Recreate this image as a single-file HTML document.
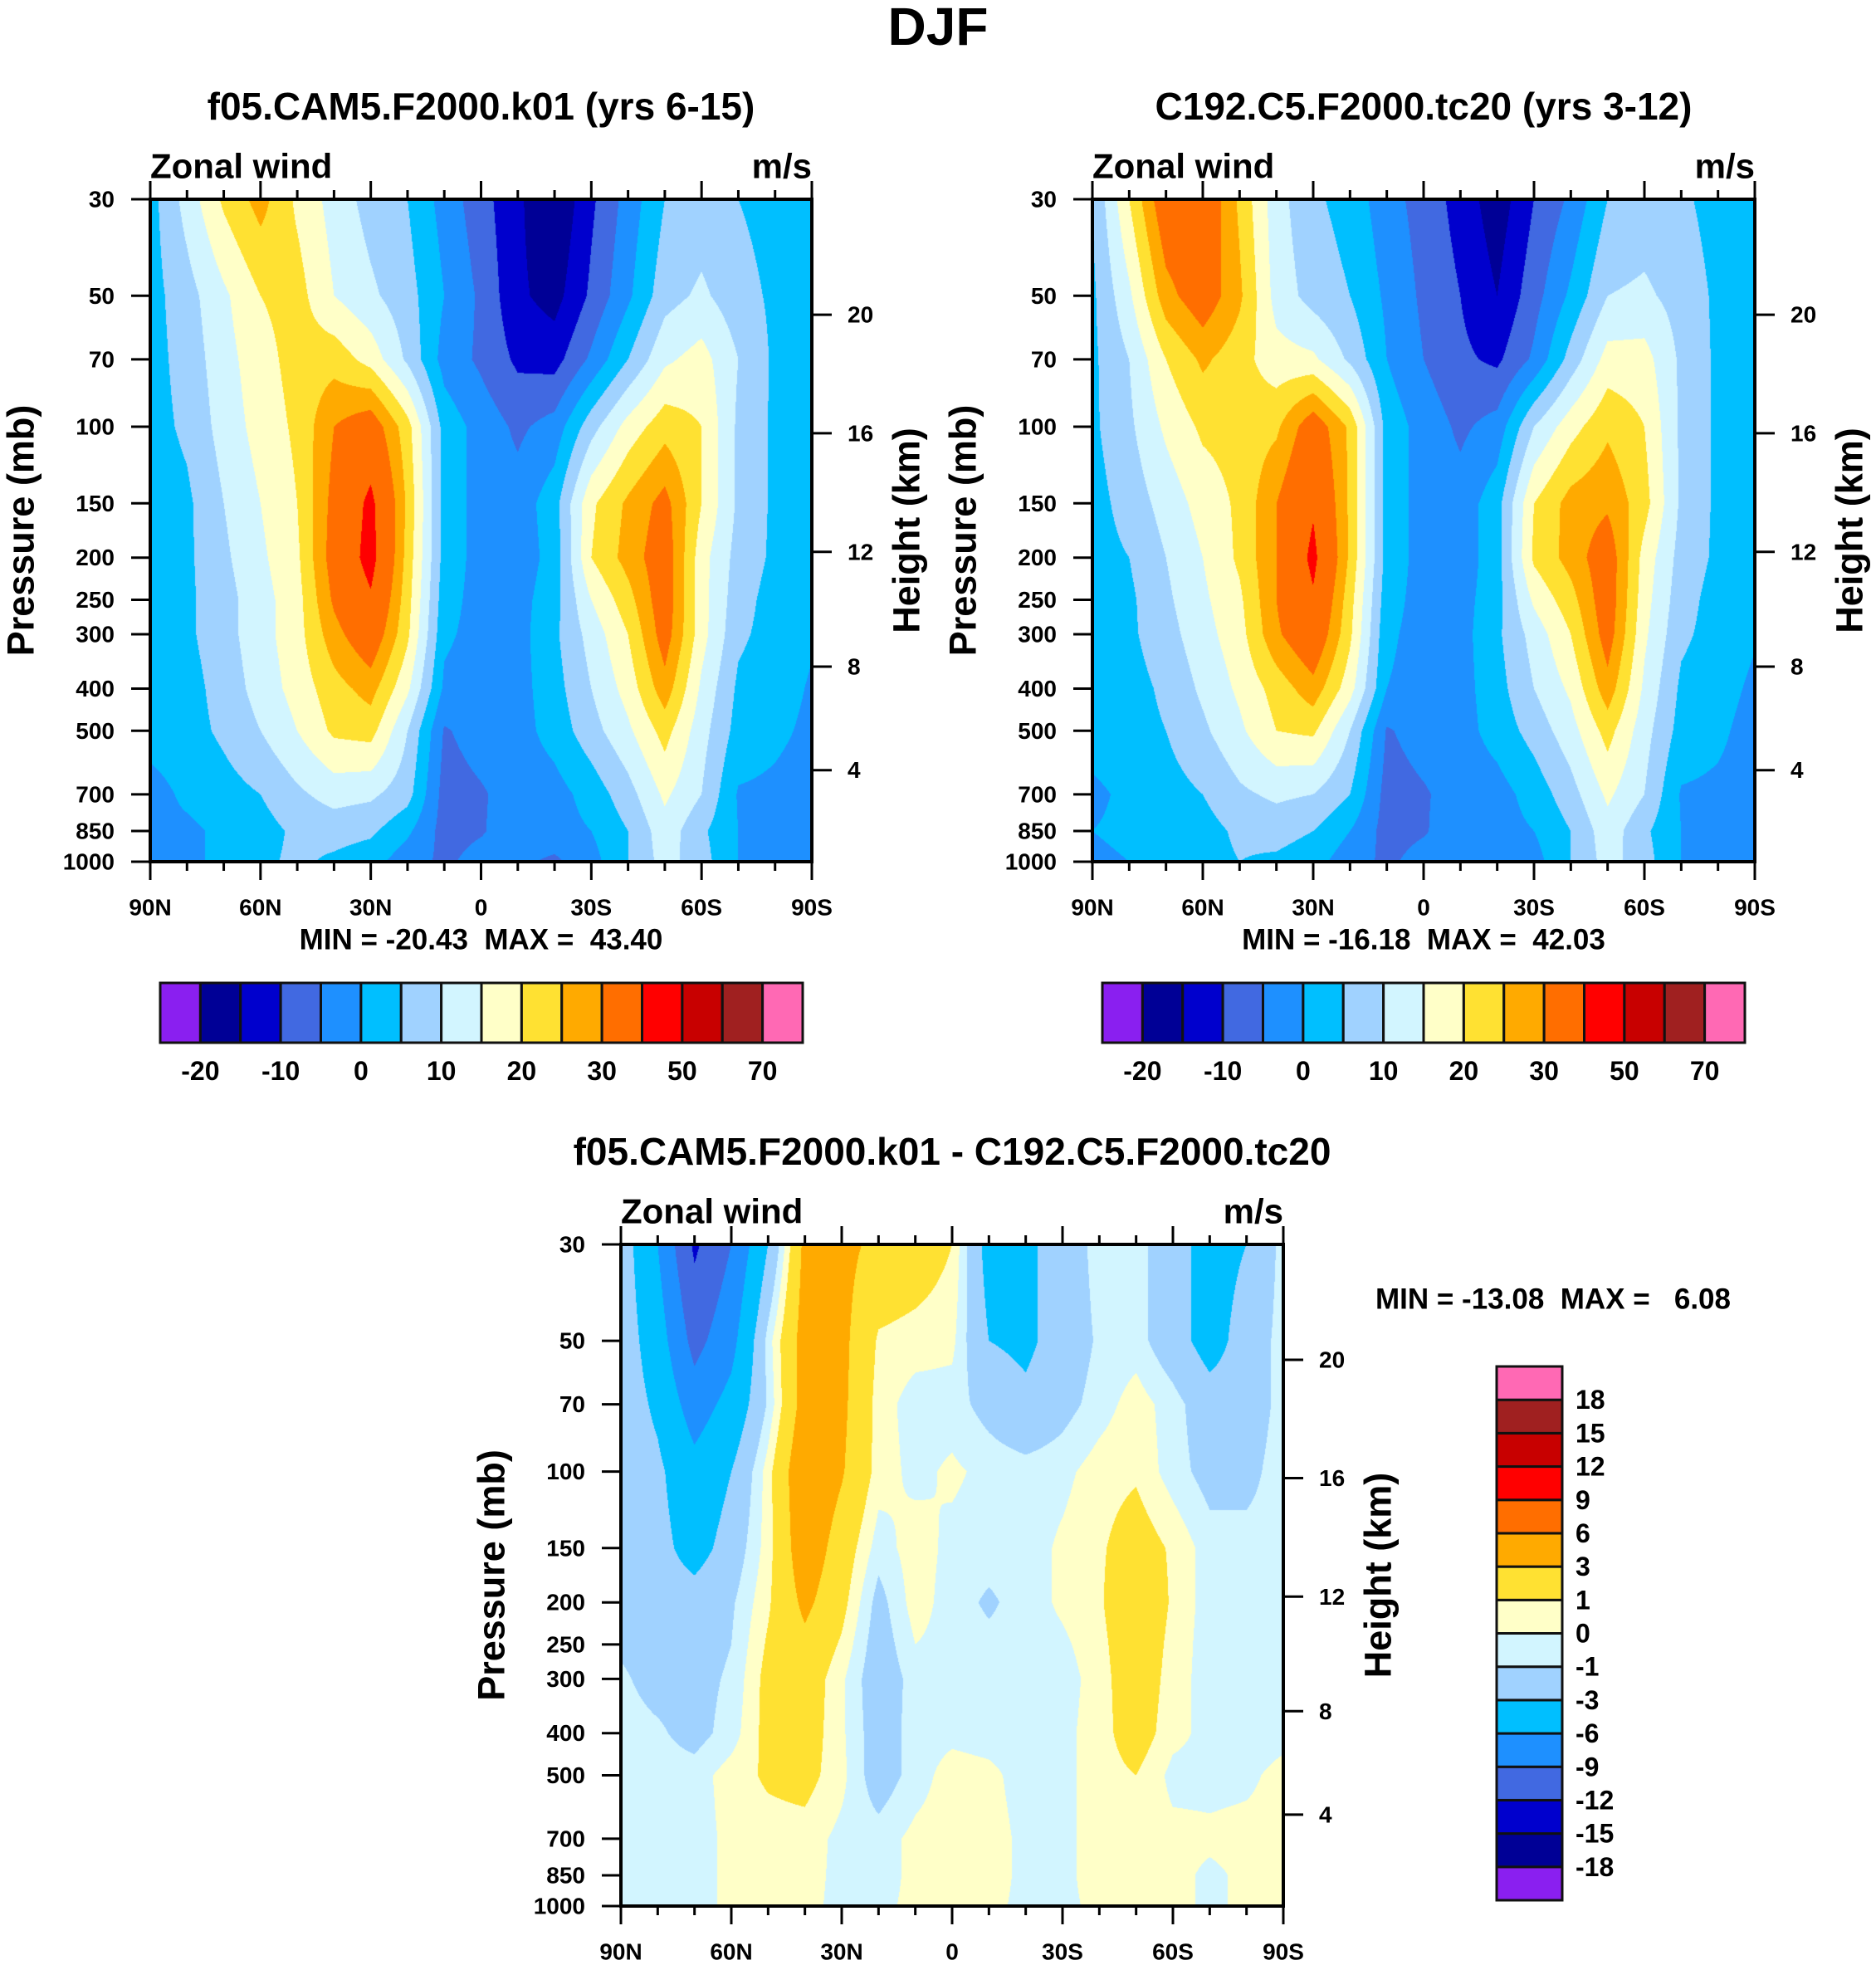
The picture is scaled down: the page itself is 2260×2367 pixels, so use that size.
<!DOCTYPE html>
<html><head><meta charset="utf-8"><style>
html,body{margin:0;padding:0;background:#fff}
#page{position:relative;width:2260px;height:2367px;overflow:hidden;background:#fff}
canvas{position:absolute}
svg{position:absolute;left:0;top:0}
text{font-family:"Liberation Sans",Arial,sans-serif;font-weight:bold;fill:#000;white-space:pre}
</style></head><body>
<div id="page">
<canvas id="c1"></canvas>
<canvas id="c2"></canvas>
<canvas id="c3"></canvas>
<svg id="ov" width="2260" height="2367"></svg>
</div>
<script>
// ---------- data ----------
const LATS = [90,80,70,60,50,40,30,20,10,0,-10,-20,-30,-40,-50,-60,-70,-80,-90];
const LEVELS = [30,50,70,100,150,200,250,300,400,500,700,850,1000];
const PRES_TICKS = [30,50,70,100,150,200,250,300,400,500,700,850,1000];
const HEIGHT_KM = [4,8,12,16,20];
const HEIGHT_P = [616,356,194,103.5,55.3];
const LAT_MAJOR = [90,60,30,0,-30,-60,-90];
const LAT_LABELS = ["90N","60N","30N","0","30S","60S","90S"];
const COLORS = ["#8a1ff0","#000096","#0000cd","#4169e1","#1e90ff","#00bfff","#a0d2ff","#d2f5ff","#ffffc8","#ffe132","#ffaa00","#ff6e00","#ff0000","#c80000","#a02020","#ff69b4"];
const LEV_ABS = [-20,-15,-10,-5,0,5,10,15,20,25,30,40,50,60,70];
const LEV_DIFF = [-18,-15,-12,-9,-6,-3,-1,0,1,3,6,9,12,15,18];
const CB_ABS_LABELS = ["-20","-10","0","10","20","30","50","70"];
const CB_DIFF_LABELS = ["-18","-15","-12","-9","-6","-3","-1","0","1","3","6","9","12","15","18"];

const uCam = [
 [3,12,21,27,19,13,8,5,-2,-8,-14,-20,-11,-3,5,7,5,3,3],
 [3,8,14,20,22,15,11,7,0,-6,-14,-17,-9,-1,8,11,7,4,3],
 [3,7,13,18,22,23,18,9,-2,-6,-11,-12,-4,5,14,17,10,4,3],
 [3,6,12,17,21,30,34,22,3,-2,-6,-3,8,17,23,20,9,4,3],
 [2,4,10,15,20,32,42,24,3,-2,-3,3,19,26,32,20,9,4,2],
 [2,4,9,14,19,33,43,23,3,-2,-3,2,20,27,34,17,8,4,2],
 [2,4,8,13,18,31,39,22,2,-2,-2,3,15,23,34,17,7,3,1.5],
 [2,4,8,13,18,28,35,21,1,-2,-2,4,12,20,33,17,6,3,0.5],
 [2,3,7,12,17,23,27,16,-1,-3,-2,3,10,17,28,14,4,2,-0.5],
 [2,3,6,10,15,21,22,10,-5.5,-3,-2,2,8,14,22,12,3,1,-1],
 [-2,1,3,5,9,12,11,7,-7,-5.5,-3,-2,2,8,16,10,-0.5,-1,-2],
 [-1,-1,1,3,6,7,6,1,-7,-5.5,-2,-2,0,5,13,6,0,-1,-1],
 [-1,-1,1,4,6,4,2,-3,-6,-3,-4,-6,-2,5,12,7,0,-1,-1]];
const uC192 = [
 [5,20,35,36,24,12,6,3,-3,-7,-12,-18,-10,-4,5,7,6,3,2],
 [4,14,28,34,26,13,8,5,-1,-6,-10,-15,-7,1,10,11,8,4,2],
 [4,10,20,26,22,17,16,9,0,-5,-9,-11,-4,7,17,17,9,4,2],
 [4,9,16,21,22,24,34,24,3,-2,-6,-3,10,18,24,20,9,4,2],
 [3,7,12,17,21,30,39,24,3,-2,-3,3,20,27,29,22,9,4,2],
 [3,5,10,15,21,30,42,24,3,-2,-3,3,21,27,34,18,8,4,2],
 [2,4,9,14,19,30,39,22,2,-2,-2,3,16,23,34,17,7,3,1.5],
 [2,4,8,13,18,29,36,21,1,-2,-2,4,12,20,33,16,6,3,0.5],
 [2,3,6,11,16,22,28,17,0,-2,-2,3,10,16,28,14,4,2,-1],
 [2,3,5,9,14,20,21,10,-5.5,-3,-2,2,7,13,22,12,3,1,-2],
 [-1,1,3,5,9,11,10,5,-7,-5.5,-3,-2,2,8,16,10,-0.5,-1,-2],
 [0,1,1,3,6,7,5,0,-7,-5.5,-2,-2,0,5,13,6,0,-1,-1],
 [-1,0,1,3,5,4,2,-3,-6,-3,-4,-5,-2,5,12,7,0,-1,-1]];
const uDiff = [
 [-1.5,-6,-12.5,-9,-3,3.6,3.6,2.5,2,1,-4,-3.5,-2,-0.5,-0.5,-2,-4,-3,-0.5],
 [-1.5,-4.5,-10,-7,-0.5,4,3.6,0.8,0.5,0.3,-3,-3.5,-2,-0.8,-0.5,-2,-4,-2,-0.5],
 [-1.5,-3.5,-7.5,-5,-0.8,4,3.5,0.5,-0.5,-0.5,-1.5,-2.5,-1.5,-0.5,0.5,-0.5,-2,-2,-0.5],
 [-1.5,-2.5,-5,-3,0.5,5,3.2,0.5,-0.3,0.2,-0.3,-0.5,-0.3,0.5,0.8,-0.5,-1.5,-1.5,-0.3],
 [-1.5,-2.2,-4,-2,0.5,4.5,2,-0.5,0.5,-0.3,-0.5,-0.5,0.2,0.8,1.8,0.8,-0.5,-0.5,-0.5],
 [-1.5,-1.8,-2,-1.2,0.8,3.5,1.5,-1.5,0.5,-0.5,-1.2,-0.5,0.2,0.8,2.5,0.8,-0.5,-0.5,-0.5],
 [-1.2,-1.6,-1.7,-1,1.2,2.5,0.8,-1.8,0,-0.4,-0.7,-0.5,-0.2,0.6,2.2,0.6,-0.5,-0.5,-0.5],
 [-0.8,-1.5,-1.5,-0.8,1.5,2,0.2,-2,-0.5,-0.3,-0.5,-0.5,-0.5,0.5,2,0.5,-0.5,-0.5,-0.5],
 [-0.5,-0.8,-1.5,-0.5,1.5,1.8,0.2,-1.8,-0.5,-0.3,-0.5,-0.5,-0.3,0.5,1.8,0.3,-0.3,-0.5,-0.3],
 [-0.5,-0.5,-0.5,0.5,1.2,1.5,0.3,-1.8,-0.5,0.5,0.3,-0.5,-0.3,0.5,1,-0.3,-0.3,-0.2,0.3],
 [-0.5,-0.5,-0.5,0.3,0.5,0.5,-0.3,-0.5,0.3,0.5,0.5,-0.3,-0.3,0.5,0.5,0.3,0.2,0.3,0.3],
 [-0.5,-0.5,-0.5,0.3,0.5,0.4,-0.3,-0.5,0.3,0.5,0.5,-0.3,-0.3,0.5,0.5,0.3,-0.2,0.2,0.3],
 [-0.3,-0.5,-0.5,0.3,0.5,0.3,-0.3,-0.3,0.3,0.2,0.3,-0.3,-0.3,0.3,0.5,0.3,-0.2,0.2,0.3]];

// ---------- layout ----------
const PANELS = [
 {id:'c1', name:'panel1', L:181, T:240, W:797, H:798, data:uCam, lev:LEV_ABS, title:'f05.CAM5.F2000.k01 (yrs 6-15)', minmax:'MIN = -20.43  MAX =  43.40', cb:{x:193,y:1184,w:774,h:72}},
 {id:'c2', name:'panel2', L:1316, T:240, W:798, H:798, data:uC192, lev:LEV_ABS, title:'C192.C5.F2000.tc20 (yrs 3-12)', minmax:'MIN = -16.18  MAX =  42.03', cb:{x:1328,y:1184,w:774,h:72}},
 {id:'c3', name:'diff-panel', L:748, T:1499, W:798, H:797, data:uDiff, lev:LEV_DIFF, title:'f05.CAM5.F2000.k01 - C192.C5.F2000.tc20', minmax:'MIN = -13.08  MAX =   6.08', cb:null}
];
const LP0 = Math.log(30), LP1 = Math.log(1000);
function xScale(P, lat){ return P.L + (90-lat)/180*P.W; }
function yScale(P, p){ return P.T + (Math.log(p)-LP0)/(LP1-LP0)*P.H; }
function hexToRgb(h){ return [parseInt(h.substr(1,2),16),parseInt(h.substr(3,2),16),parseInt(h.substr(5,2),16)]; }
const RGB = COLORS.map(hexToRgb);

function drawField(P){
  const cv = document.getElementById(P.id);
  cv.width = P.W; cv.height = P.H;
  cv.style.left = P.L+'px'; cv.style.top = P.T+'px';
  const ctx = cv.getContext('2d');
  const img = ctx.createImageData(P.W, P.H);
  const logL = LEVELS.map(Math.log);
  for (let py=0; py<P.H; py++){
    const lp = LP0 + (py+0.5)/P.H*(LP1-LP0);
    let j=0; while (j<LEVELS.length-2 && lp>logL[j+1]) j++;
    const ty = Math.min(1,Math.max(0,(lp-logL[j])/(logL[j+1]-logL[j])));
    const r0 = P.data[j], r1 = P.data[j+1];
    for (let px=0; px<P.W; px++){
      const lat = 90 - (px+0.5)/P.W*180;
      const f = (90-lat)/10;
      let i = Math.min(LATS.length-2, Math.floor(f));
      const tx = f - i;
      const v = (r0[i]*(1-tx)+r0[i+1]*tx)*(1-ty) + (r1[i]*(1-tx)+r1[i+1]*tx)*ty;
      let k=0; while (k<P.lev.length && v>=P.lev[k]) k++;
      const c = RGB[k]; const o = (py*P.W+px)*4;
      img.data[o]=c[0]; img.data[o+1]=c[1]; img.data[o+2]=c[2]; img.data[o+3]=255;
    }
  }
  ctx.putImageData(img,0,0);
}

const NS = 'http://www.w3.org/2000/svg';
const svg = document.getElementById('ov');
function mk(tag, attrs, parent){
  const e = document.createElementNS(NS, tag);
  for (const k in attrs) e.setAttribute(k, attrs[k]);
  (parent||svg).appendChild(e); return e;
}
function txt(s, x, y, size, anchor, parent){
  const t = mk('text', {x:x, y:y, 'font-size':size, 'text-anchor':anchor||'middle', 'dominant-baseline':'central'}, parent);
  t.setAttribute('xml:space','preserve');
  t.textContent = s; return t;
}

const mainTitle = txt('DJF', 1130, 32, 64);



PANELS.forEach(P => {
  drawField(P);
  const g = mk('g', {});
  
  
  const R = P.L+P.W, B = P.T+P.H;
  const fr = mk('rect', {x:P.L, y:P.T, width:P.W, height:P.H, fill:'none', stroke:'#000', 'stroke-width':4}, g);
  
  
  for (let lat=90; lat>=-90; lat-=10){
    const x = xScale(P, lat); const major = lat%30===0; const len = major?22:11;
    mk('line', {x1:x, y1:B, x2:x, y2:B+len, stroke:'#000', 'stroke-width':3}, g);
    mk('line', {x1:x, y1:P.T, x2:x, y2:P.T-len, stroke:'#000', 'stroke-width':3}, g);
  }
  LAT_MAJOR.forEach((lat, i) => {
    const t = txt(LAT_LABELS[i], xScale(P, lat), B+55, 28, 'middle', g);
    
    
  });
  PRES_TICKS.forEach(p => {
    const y = yScale(P, p);
    mk('line', {x1:P.L-23, y1:y, x2:P.L, y2:y, stroke:'#000', 'stroke-width':3}, g);
    const t = txt(String(p), P.L-43, y, 28, 'end', g);
    
    
  });
  HEIGHT_KM.forEach((km, i) => {
    const y = yScale(P, HEIGHT_P[i]);
    mk('line', {x1:R, y1:y, x2:R+24, y2:y, stroke:'#000', 'stroke-width':3}, g);
    const t = txt(String(km), R+43, y, 28, 'start', g);
    
    
  });
  const cy = (P.T+B)/2;
  const yt = txt('Pressure (mb)', 0, 0, 45, 'middle', g);
  yt.setAttribute('transform', 'translate('+(P.L-156)+','+cy+') rotate(-90)');
  
  
  const ht = txt('Height (km)', 0, 0, 45, 'middle', g);
  ht.setAttribute('transform', 'translate('+(R+114)+','+cy+') rotate(-90)');
  
  
  const tt = txt(P.title, (P.L+R)/2, P.T-112, 46, 'middle', g);
  
  
  const zw = txt('Zonal wind', P.L, P.T-40, 42, 'start', g);
  
  
  const un = txt('m/s', R, P.T-40, 42, 'end', g);
  
  
  if (P.cb){
    const cb = P.cb; const bw = cb.w/16;
    const mm = txt(P.minmax, (P.L+R)/2, B+94, 35, 'middle', g);
    
    
    COLORS.forEach((c, i) => {
      const r = mk('rect', {x:cb.x+i*bw, y:cb.y, width:bw, height:cb.h, fill:c, stroke:'#111', 'stroke-width':3}, g);
      
      
    });
    CB_ABS_LABELS.forEach((s, i) => {
      const t = txt(s, cb.x+(2*i+1)*bw, cb.y+cb.h+34, 32, 'middle', g);
      
      
    });
  } else {
    const mm = txt(P.minmax, 1871, 1565, 35, 'middle', g);
    
    
    const cx = 1803, cw = 79, ctop = 1646, bh = (2289-1646)/16;
    COLORS.forEach((c, i) => {
      const r = mk('rect', {x:cx, y:ctop+(15-i)*bh, width:cw, height:bh, fill:c, stroke:'#111', 'stroke-width':3}, g);
      
      
    });
    CB_DIFF_LABELS.forEach((s, i) => {
      const t = txt(s, 1898, ctop+(15-i)*bh, 32, 'start', g);
      
      
    });
  }
});
</script>
</body></html>
